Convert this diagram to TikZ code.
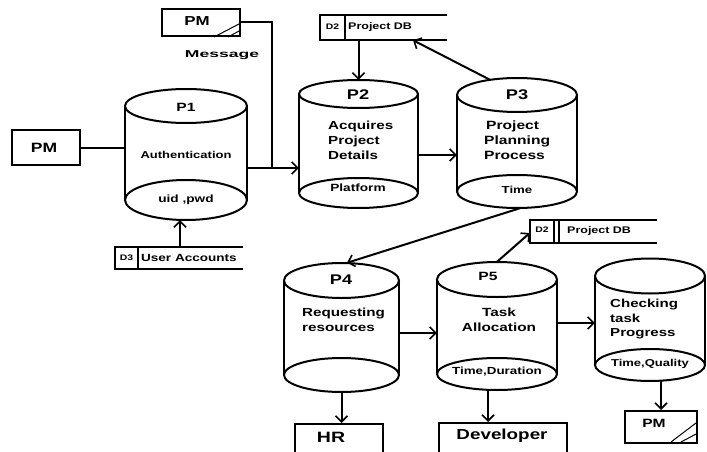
\documentclass[tikz,border=0pt]{standalone}
\usepackage{fontspec}
\usepackage{graphicx}
\setmainfont{Liberation Sans}[FakeStretch=1.3]
\usetikzlibrary{arrows.meta,calc}
\newcommand\fsz[1]{\fontsize{#1}{#1}\selectfont\bfseries}
\newcommand\fsl[2]{\fontsize{#1}{#2}\selectfont\bfseries}
\tikzset{
 ln/.style={line width=2pt},
 thinln/.style={line width=1pt},
 arr/.style={ln, -{Straight Barb[length=6pt,width=12pt,line width=1.6pt]}},
 txt/.style={inner sep=0pt},
 area/.style={inner sep=0pt, draw=none},
 box/.style={draw, ln, inner sep=0pt},
}
% name, x1, x2, ytop, ybot, ry top, ry bottom
\newcommand\mycyl[7]{%
 \node[area, minimum width={(#3-#2)*1pt}, minimum height={(#5+#7-#4+#6)*1pt}] (#1) at ({(#2+#3)/2},{(#4-#6+#5+#7)/2}) {};
 \draw[ln] ({(#2+#3)/2},#4) ellipse [x radius={((#3-#2)/2)*1pt}, y radius={#6*1pt}];
 \draw[ln] ({(#2+#3)/2},#5) ellipse [x radius={((#3-#2)/2)*1pt}, y radius={#7*1pt}];
 \draw[ln] (#2,#4) -- (#2,#5) (#3,#4) -- (#3,#5);
}
\begin{document}
\begin{tikzpicture}[x=1pt,y=-1pt]
\useasboundingbox (0,0) rectangle (707,452);
\clip (0,0) rectangle (707,452);
\fill[white] (0,0) rectangle (707,452);

% cylinders
\mycyl{P1}{125}{247}{106}{200}{17}{20}
\mycyl{P2}{299}{418}{94}{193}{14}{15}
\mycyl{P3}{457}{577}{95}{191.5}{17}{16.5}
\mycyl{P4}{284}{399}{280.5}{375}{17.5}{17}
\mycyl{P5}{437}{557}{279.5}{374}{17.5}{16}
\mycyl{P6}{595}{705}{276}{365}{17.5}{16}

% cylinder texts
\node[txt, font={\fsz{12}}] (t1a) at (186,107) {P1};
\node[txt, font={\fsz{10}}] (t1b) at (186,155) {Authentication};
\node[txt, font={\fsz{10.5}}] (t1c) at (186,200) {uid ,pwd};

\node[txt, font={\fsz{14}}] (t2a) at (358,95) {P2};
\node[txt, anchor=west, align=left, font={\fsl{11.7}{15}}] (t2b) at (328,140) {Acquires\\Project\\Details};
\node[txt, font={\fsz{10.5}}] (t2c) at (358,188) {Platform};

\node[txt, font={\fsz{14}}] (t3a) at (517,95) {P3};
\node[txt, anchor=west, align=left, font={\fsl{12}{15}}] (t3b) at (484,140) {\hspace{2pt}Project\\Planning\\Process};
\node[txt, font={\fsz{10.2}}] (t3c) at (517,190) {Time};

\node[txt, font={\fsz{14}}] (t4a) at (341,280) {P4};
\node[txt, anchor=west, align=left, font={\fsl{11.7}{15}}] (t4b) at (302,320) {Requesting\\resources};

\node[txt, font={\fsz{12}}] (t5a) at (488,276) {P5};
\node[txt, align=center, font={\fsl{11.8}{15.5}}] (t5b) at (499,320) {Task\\Allocation};
\node[txt, font={\fsz{10.3}}] (t5c) at (497,372) {Time,Duration};

\node[txt, anchor=west, align=left, font={\fsl{11.6}{14.5}}] (t6b) at (610,319.5) {Checking\\task\\Progress};
\node[txt, font={\fsz{10}}] (t6c) at (650,364) {Time,Quality};

% external entities
\node[box, minimum width=78pt, minimum height=27pt] (PMt) at (201,22.5) {};
\node[txt, font={\fsz{13}}] (PMtt) at (197,21.5) {PM};
\draw[thinln] ([xshift=-27pt]PMt.south east) -- ([xshift=-2pt,yshift=13pt]PMt.south east);
\draw[thinln] ([xshift=-13pt]PMt.south east) -- ([yshift=7pt]PMt.south east);

\node[box, minimum width=68pt, minimum height=35pt] (PMl) at (46,147.5) {};
\node[txt, font={\fsz{13.5}}] (PMlt) at (44,148) {PM};

\node[box, minimum width=72pt, minimum height=32pt] (PMb) at (661,427) {};
\node[txt, font={\fsz{12}}] (PMbt) at (654,423) {PM};
\draw[thinln] ([xshift=-27pt,yshift=2pt]PMb.south east) -- ([xshift=-2pt,yshift=21pt]PMb.south east);
\draw[thinln] ([xshift=-17pt,yshift=2pt]PMb.south east) -- ([yshift=11pt]PMb.south east);

\node[box, minimum width=88pt, minimum height=50pt, anchor=north] (HR) at (339,423) {};
\node[txt, font={\fsz{15}}] (HRt) at (331,437) {HR};
\node[box, minimum width=128pt, minimum height=50pt, anchor=north] (Dev) at (503,422) {};
\node[txt, font={\fsz{14.5}}] (Devt) at (502,436) {Developer};

% data stores
\node[area, minimum width=127pt, minimum height=25pt] (D2a) at (383.5,27.5) {};
\draw[ln] (D2a.north east) -- (D2a.north west) -- (D2a.south west) -- (D2a.south east);
\draw[ln] ([xshift=25pt]D2a.north west) -- ([xshift=25pt]D2a.south west);
\node[txt, font={\fsz{8}}] (D2al) at (332.5,27) {D2};
\node[txt, anchor=west, font={\fsz{9.6}}] (D2at) at (348,27) {Project DB};

\node[area, minimum width=127pt, minimum height=23pt] (D2b) at (593.5,231.5) {};
\draw[ln] (D2b.north east) -- (D2b.north west) -- (D2b.south west) -- (D2b.south east);
\draw[ln] ([xshift=24pt]D2b.north west) -- ([xshift=24pt]D2b.south west);
\draw[ln] ([xshift=29pt]D2b.north west) -- ([xshift=29pt]D2b.south west);
\node[txt, font={\fsz{8}}] (D2bl) at (542,230) {D2};
\node[txt, anchor=west, font={\fsz{9.6}}] (D2bt) at (567,231) {Project DB};

\node[area, minimum width=128pt, minimum height=22pt] (D3) at (179,258) {};
\draw[ln] (D3.north east) -- (D3.north west) -- (D3.south west) -- (D3.south east);
\draw[ln] ([xshift=23pt]D3.north west) -- ([xshift=23pt]D3.south west);
\node[txt, font={\fsz{8}}] (D3l) at (126.5,258) {D3};
\node[txt, anchor=west, font={\fsz{10.4}}] (D3t) at (141,257.5) {User Accounts};

% message label
\node[txt, font={\fsz{10}}] (msg) at (222,55) {\scalebox{1.35}[1]{Message}};

% connectors
\coordinate (jn) at (272,168);
\coordinate (y23) at (0,155);
\coordinate (y45) at (0,333);
\coordinate (y56) at (0,323);
\draw[ln] (PMl.east) -- (PMl.east -| P1.west);
\draw[ln] (PMt.east) -| (jn);
\draw[ln] (P1.east |- jn) -- (jn);
\draw[arr] (jn) -- (P2.west |- jn);
\draw[arr] ([xshift=-6pt]P1.south |- D3.north) -- ([xshift=-6pt]P1.south);
\draw[arr] (P2.north |- D2a.south) -- (P2.north);
\draw[arr] ([xshift=-27pt,yshift=-2pt]P3.north) -- ([xshift=29.5pt]D2a.south);
\draw[arr] (P2.east |- y23) -- (P3.west |- y23);
\draw[arr] ([xshift=3pt]P3.south) -- ([xshift=5.5pt]P4.north);
\draw[arr] (P4.south) -- (P4.south |- HR.north);
\draw[arr] (P4.east |- y45) -- (P5.west |- y45);
\draw[arr] (P5.north) -- ([yshift=-1.5pt]D2b.west);
\draw[arr] (P5.east |- y56) -- (P6.west |- y56);
\draw[arr] ([xshift=-9pt]P5.south) -- ([xshift=-9pt]P5.south |- Dev.north);
\draw[arr] (PMb.north |- P6.south) -- (PMb.north);
\end{tikzpicture}
\end{document}
